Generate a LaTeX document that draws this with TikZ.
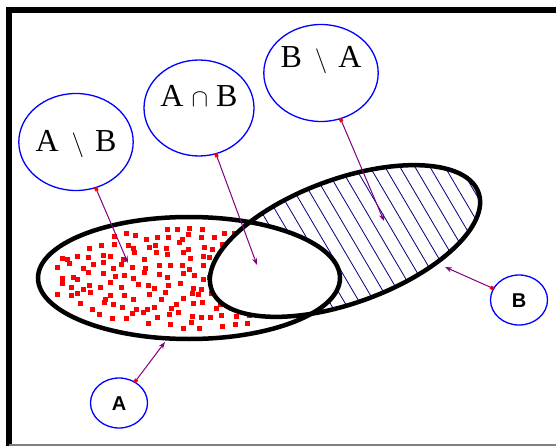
\documentclass[tikz,border=0pt]{standalone}
\usepackage{fontspec}
\setmainfont{Liberation Serif}
\newfontfamily\labelsans{Liberation Sans}
\usetikzlibrary{arrows.meta,shapes.geometric}
\definecolor{ptrpurple}{RGB}{128,0,128}
\definecolor{hatchnavy}{RGB}{0,0,128}

\begin{document}
\begin{tikzpicture}[x=1pt,y=-1pt,
  bubble/.style={ellipse,draw=blue,line width=1.3pt,inner sep=0pt,outer sep=0pt,
                 minimum width=110pt,minimum height=97pt,text height=21pt,
                 font=\fontsize{32}{34}\selectfont},
  small/.style={bubble,minimum width=57pt,minimum height=50pt,text height=14pt,
                text depth=0pt,font=\labelsans\bfseries\fontsize{20}{22}\selectfont},
  ptr/.style={{Square[color=red,length=3.5pt]}-{Stealth[length=7pt,width=5pt]},
              draw=ptrpurple,line width=1pt},
  setline/.style={line width=4.5pt},
  hatch/.style={draw=hatchnavy,line width=0.8pt},
  dot/.style={fill=red}
]
\useasboundingbox (0,0) rectangle (556,446);
\draw[line width=6pt] (9,470) -- (9,10) -- (580,10);
\draw[gray,line width=2pt] (9,445) -- (580,445);

\pgfmathsetseed{7}
\foreach \gx in {48,59,...,252}{
  \foreach \gy in {226,236,...,336}{
    \pgfmathsetmacro\px{\gx+8*rnd-4}
    \pgfmathsetmacro\py{\gy+8*rnd-4}
    \pgfmathsetmacro\inA{((\px-189)/140)^2+((\py-278)/51)^2}
    \ifdim\inA pt<1pt \fill[dot] (\px-2.5,\py-2.5) rectangle ++(5,5); \fi
  }
}
\fill[white,rotate around={20:(345,241)}] (345,241) ellipse [x radius=142,y radius=62];
\begin{scope}
  \clip[rotate around={20:(345,241)}] (345,241) ellipse [x radius=142,y radius=62];
  \foreach \x in {120,135,...,540} \draw[hatch] (\x,150) -- ++(110,187);
  \fill[white] (189,278) ellipse [x radius=151,y radius=61];
\end{scope}
\draw[setline] (189,278) ellipse [x radius=151,y radius=61];
\draw[setline,rotate around={20:(345,241)}] (345,241) ellipse [x radius=142,y radius=62];

\node[bubble,text depth=2pt] (setAB) at (76,142) {A\hspace{5pt} $\setminus$\hspace{3pt} B};
\node[bubble,minimum height=96pt,text depth=23pt] (capAB) at (199,108) {A $\cap$ B};
\node[bubble,text depth=31pt] (setBA) at (321,73) {B\hspace{5pt} $\setminus$\hspace{3pt} A};
\node[small] (nameA) at (119,403) {A};
\node[small] (nameB) at (519,300) {B};

\coordinate (tipAB) at (128,263);
\coordinate (tipcap) at (257,265);
\coordinate (tipBA) at (384,221);
\coordinate (tipA) at (165,342);
\coordinate (tipB) at (445,267);
\draw[ptr] (setAB) -- (tipAB);
\draw[ptr] (capAB) -- (tipcap);
\draw[ptr] (setBA) -- (tipBA);
\draw[ptr] (nameA) -- (tipA);
\draw[ptr] (nameB) -- (tipB);
\end{tikzpicture}
\end{document}
